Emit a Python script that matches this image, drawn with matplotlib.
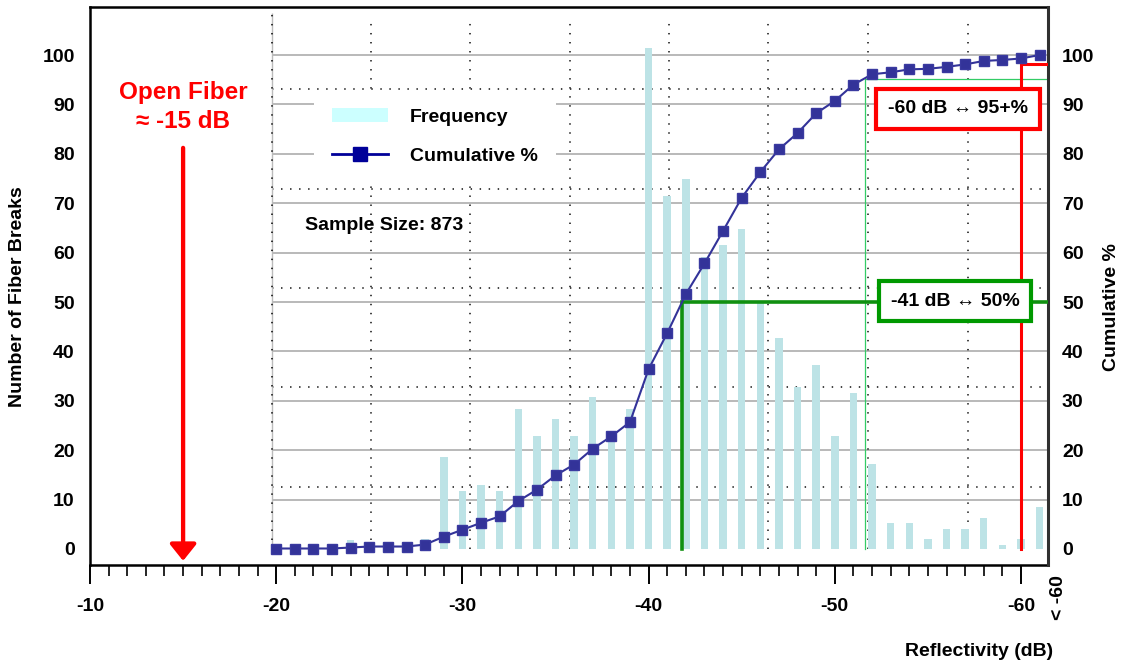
import matplotlib
matplotlib.use("Agg")
import matplotlib.pyplot as plt
from matplotlib.patches import Patch
from matplotlib.lines import Line2D

plt.rcParams['font.family'] = ['Liberation Sans', 'DejaVu Sans']
plt.rcParams['font.weight'] = 'bold'
plt.rcParams['font.size'] = 14

# ---- data ----
reflectivity = [-20, -21, -22, -23, -24, -25, -26, -27, -28, -29, -30, -31, -32, -33,
                -34, -35, -36, -37, -38, -39, -40, -41, -42, -43, -44, -45, -46, -47,
                -48, -49, -50, -51, -52, -53, -54, -55, -56, -57, -58, -59, -60, -61]
frequency = [1, 0, 0, 0, 1.8, 1, 0, 0, 2, 18.6, 11.7, 13.0, 11.7, 28.3,
             22.9, 26.3, 22.9, 30.7, 22.5, 28.3, 101.5, 71.4, 74.9, 59.2, 61.5, 64.8, 49.8, 42.8,
             32.8, 37.2, 22.9, 31.6, 17.3, 5.2, 5.2, 2.0, 4.0, 4.0, 6.3, 0.8, 2.0, 8.5]
cumulative = [0.1, 0.1, 0.1, 0.1, 0.3, 0.5, 0.5, 0.5, 0.9, 2.5, 3.9, 5.3, 6.6, 9.7,
              12.0, 14.9, 17.1, 20.3, 22.8, 25.7, 36.4, 43.7, 51.6, 57.8, 64.4, 71.1, 76.3, 80.9,
              84.2, 88.2, 90.7, 94.0, 96.1, 96.5, 97.1, 97.2, 97.6, 98.1, 98.8, 99.0, 99.3, 100.0]
x_ticks = [-10, -20, -30, -40, -50, -60]
x_ticklabels = ['-10', '-20', '-30', '-40', '-50', '-60']
last_bin_label = '< -60'
y_ticks = [0, 10, 20, 30, 40, 50, 60, 70, 80, 90, 100]
sample_size = 873
open_fiber_db = -15
median_db, median_pct = -41.8, 50
p95_db, p95_pct = -60, 98.1
thin_db, thin_pct = -51.6, 95.2

# ---- styling ----
XMIN, XMAX = -10, -61.45
YMIN, YMAX = -3.24, 109.72
grid_left = -19.76
dotted_h = [12.6, 32.7, 52.8, 72.9, 93.1]
dotted_v = [-25.08, -30.41, -35.76, -41.10, -46.43, -51.77, -57.14]
bar_color = '#BDE3E6'
line_color = '#333399'

fig = plt.figure(figsize=(11.25, 6.63), dpi=100)
ax = fig.add_axes([90/1125, (663-565)/663, (1048-90)/1125, (565-7)/663])
ax.set_xlim(XMIN, XMAX)
ax.set_ylim(YMIN, YMAX)

# grid (only in the right region)
ax.hlines([v for v in y_ticks if v > 0], grid_left, XMAX, colors='#A6A6A6', lw=1.1, zorder=1)
ax.hlines(dotted_h, grid_left, XMAX, colors='#333333', lw=1.3, linestyles=(0, (0.8, 4.2)), zorder=1)
ax.vlines(dotted_v, 0, 107, colors='#333333', lw=1.3, linestyles=(0, (0.8, 4.2)), zorder=1)
ax.vlines([grid_left], 0, 108.5, colors='#BBBBBB', lw=1.0, zorder=1)
ax.vlines([grid_left], 0, 108.5, colors='#222222', lw=1.3, linestyles=(0, (0.8, 4.2)), zorder=1)

ax.bar(reflectivity, frequency, width=0.4, color=bar_color, zorder=2)

ax.set_yticks(y_ticks)
ax.set_yticklabels([str(v) for v in y_ticks])
ax.tick_params(axis='y', length=0, pad=11, labelsize=14)
ax.set_xticks(x_ticks)
ax.set_xticklabels(x_ticklabels)
ax.set_xticks(range(-11, -60, -1), minor=True)
ax.tick_params(axis='x', which='major', length=13.5, width=1.4, direction='out', pad=10, labelsize=14)
ax.tick_params(axis='x', which='minor', length=7.7, width=1.2, direction='out')
for s in ['left', 'bottom', 'top']:
    ax.spines[s].set_linewidth(1.8)
    ax.spines[s].set_color('black')
ax.spines['right'].set_visible(False)

ax2 = ax.twinx()
ax2.set_ylim(YMIN, YMAX)
ax2.set_yticks(y_ticks)
ax2.set_yticklabels([str(v) for v in y_ticks])
ax2.tick_params(axis='y', length=0, pad=10, labelsize=14)
for s in ['left', 'bottom', 'top']:
    ax2.spines[s].set_visible(False)
ax2.spines['right'].set_linewidth(2.2)
ax2.spines['right'].set_color('#303030')

# reference lines
ax2.plot([thin_db, thin_db, XMAX], [0, thin_pct, thin_pct], color='#33CC66', lw=0.9, zorder=2)
ax2.plot([median_db, median_db, XMAX], [0, median_pct, median_pct], color='#109010', lw=2.6,
         solid_joinstyle='miter', zorder=3)
ax2.plot([p95_db, p95_db, XMAX], [0, p95_pct, p95_pct], color='#FF0000', lw=2.2,
         solid_joinstyle='miter', zorder=3)

ax2.plot(reflectivity, cumulative, color=line_color, lw=1.5, marker='s', markersize=7.7,
         markerfacecolor=line_color, markeredgecolor='#3A3AA0', zorder=4)

# annotation boxes
ax2.text(-56.62, 89.1, '-60 dB \u2194 95+%', ha='center', va='center', fontsize=14, zorder=6,
         bbox=dict(boxstyle='square,pad=0.6', facecolor='white', edgecolor='#FF0000', lw=3))
ax2.text(-56.45, 50.2, '-41 dB \u2194 50%', ha='center', va='center', fontsize=14, zorder=6,
         bbox=dict(boxstyle='square,pad=0.6', facecolor='white', edgecolor='#009900', lw=3))

# open fiber
ax2.text(open_fiber_db, 92.5, 'Open Fiber', color='#FF0000', ha='center', va='center', fontsize=17.5)
ax2.text(open_fiber_db, 86.6, '\u2248 -15 dB', color='#FF0000', ha='center', va='center', fontsize=17.5)
ax2.annotate('', xy=(open_fiber_db, -2.4), xytext=(open_fiber_db, 81.2),
             arrowprops=dict(arrowstyle='-|>,head_width=0.4,head_length=0.5', color='#FF0000',
                             lw=3.1, mutation_scale=20, shrinkA=0, shrinkB=0))

ax2.text(-21.55, 65.4, f'Sample Size: {sample_size}', ha='left', va='center', fontsize=14)

# legend
handles = [Patch(facecolor='#CCFFFF', edgecolor='none'),
           Line2D([], [], color='#000099', lw=2, marker='s', markersize=9.5)]
leg = ax2.legend(handles, ['Frequency', 'Cumulative %'], loc='upper left',
                 bbox_to_anchor=(314/1125, 1-90/663), bbox_transform=fig.transFigure,
                 frameon=True, facecolor='white', edgecolor='none', framealpha=1, fancybox=False,
                 handlelength=2.84, handletextpad=1.13, labelspacing=1.1, borderpad=0.95,
                 borderaxespad=0, fontsize=14)
leg.set_zorder(5)

# "< -60" label
ax.text(-62.0, -0.058, last_bin_label, transform=ax.get_xaxis_transform(), rotation=90,
        ha='center', va='center', fontsize=14, clip_on=False)

fig.text(18/1125, 1-297/663, 'Number of Fiber Breaks', rotation=90, ha='center', va='center', fontsize=14)
fig.text(1112/1125, 1-307/663, 'Cumulative %', rotation=90, ha='center', va='center', fontsize=14)
fig.text(1053/1125, 1-651/663, 'Reflectivity (dB)', ha='right', va='center', fontsize=14)

fig.savefig('out.png', dpi=100)
